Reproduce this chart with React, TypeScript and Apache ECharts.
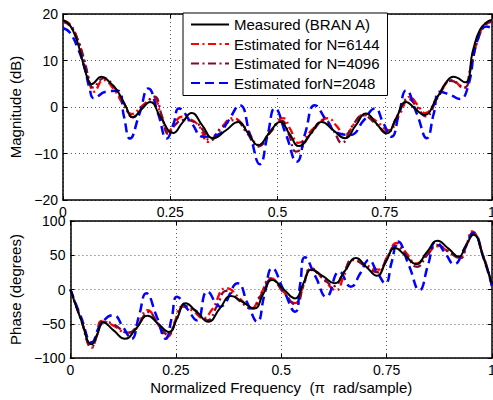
import React, { useEffect, useRef } from "react";
import * as echarts from "echarts";

const seriesNames = [
  "Measured (BRAN A)",
  "Estimated for N=6144",
  "Estimated for N=4096",
  "Estimated forN=2048",
];
const seriesColors = ["#000000", "#ff0000", "#7f0a33", "#0000ff"];
const freqTicks = [0, 0.25, 0.5, 0.75, 1];
const magTicks = [-20, -10, 0, 10, 20];
const phaseTicks = [-100, -50, 0, 50, 100];

const magMeasured: [number, number][] = [
  [0, 18.7], [0.016, 17.6], [0.032, 14.4], [0.047, 9.4], [0.058, 6.0], [0.066, 4.9],
  [0.09, 6.5], [0.108, 5.4], [0.125, 3.7], [0.145, 0.4], [0.163, -2.2], [0.183, -0.5],
  [0.203, 1.1], [0.228, -2.3], [0.257, -5.6], [0.278, -3.4], [0.3, -1.3], [0.325, -4.0],
  [0.35, -6.7], [0.38, -5.0], [0.408, -3.2], [0.432, -5.7], [0.455, -8.2], [0.48, -5.7],
  [0.506, -3.2], [0.528, -5.8], [0.55, -8.4], [0.577, -5.8], [0.603, -3.2], [0.63, -5.0],
  [0.657, -6.7], [0.682, -4.0], [0.706, -1.4], [0.73, -3.5], [0.754, -5.7], [0.777, -2.3],
  [0.8, 1.1], [0.82, -0.3], [0.842, -1.7], [0.871, 1.9], [0.894, 5.4], [0.91, 6.5],
  [0.937, 5.3], [0.956, 12.3], [0.972, 16.6], [0.99, 18.4], [1, 18.7],
];
const magN6144: [number, number][] = [
  [0, 18.5], [0.016, 17.8], [0.032, 15.0], [0.05, 9.5], [0.062, 5.2], [0.072, 3.3],
  [0.094, 5.8], [0.12, 3.6], [0.14, 0.6], [0.16, -1.5], [0.185, 0.3], [0.21, 1.9],
  [0.228, -1.5], [0.245, -5.3], [0.262, -3.2], [0.277, -2.1], [0.3, -2.8], [0.318, -4.2],
  [0.338, -7.5], [0.368, -4.5], [0.397, -2.4], [0.425, -4.5], [0.458, -8.2], [0.485, -5.0],
  [0.513, -2.4], [0.53, -4.8], [0.548, -7.7], [0.585, -4.5], [0.618, -2.4], [0.637, -4.0],
  [0.657, -6.0], [0.68, -3.5], [0.7, -1.7], [0.73, -3.0], [0.758, -5.0], [0.785, -1.5],
  [0.809, 2.2], [0.826, 0.5], [0.844, -1.3], [0.875, 2.5], [0.907, 5.8], [0.933, 4.0],
  [0.95, 8.5], [0.965, 14.0], [0.985, 18.0], [1, 18.5],
];
const magN4096: [number, number][] = [
  [0, 18.3], [0.016, 17.5], [0.032, 15.0], [0.05, 10.0], [0.06, 6.2], [0.069, 4.2],
  [0.095, 6.2], [0.12, 4.2], [0.14, 1.2], [0.163, -2.2], [0.188, 0.2], [0.213, 2.2],
  [0.23, -1.8], [0.246, -5.8], [0.262, -3.8], [0.28, -2.8], [0.31, -3.4], [0.325, -4.8],
  [0.343, -7.2], [0.37, -4.5], [0.4, -2.8], [0.428, -5.5], [0.455, -8.5], [0.483, -5.5],
  [0.51, -3.0], [0.527, -6.0], [0.543, -9.6], [0.58, -5.5], [0.61, -2.8], [0.63, -5.0],
  [0.65, -7.7], [0.675, -4.0], [0.7, -1.8], [0.728, -3.5], [0.755, -5.5], [0.78, -1.8],
  [0.805, 1.8], [0.825, 0], [0.845, -2.0], [0.875, 2.2], [0.905, 5.6], [0.935, 4.2],
  [0.952, 9.0], [0.967, 14.5], [0.985, 17.7], [1, 18.3],
];
const magN2048: [number, number][] = [
  [0, 17.0], [0.016, 16.0], [0.035, 12.5], [0.05, 8.5], [0.062, 4.0], [0.072, 1.9],
  [0.1, 3.3], [0.128, 3.5], [0.142, -2.0], [0.156, -6.8], [0.178, -1.5], [0.199, 4.0],
  [0.222, -1.5], [0.242, -6.8], [0.258, -3.5], [0.27, -0.3], [0.3, -3.5], [0.327, -6.4],
  [0.36, -6.0], [0.385, -3.0], [0.412, 0.4], [0.436, -6.0], [0.459, -12.3], [0.477, -6.0],
  [0.494, -0.3], [0.52, -6.0], [0.545, -11.8], [0.565, -5.5], [0.587, 0.4], [0.615, -3.0],
  [0.64, -5.6], [0.67, -6.0], [0.7, -3.0], [0.727, -0.3], [0.747, -3.5], [0.766, -6.4],
  [0.783, -1.5], [0.8, 3.6], [0.825, -1.5], [0.848, -6.7], [0.864, -1.5], [0.879, 3.3],
  [0.905, 2.5], [0.925, 1.7], [0.944, 4.4], [0.964, 13.7], [0.987, 17.3], [1, 17.0],
];

const phaseMeasured: [number, number][] = [
  [0, 0], [0.024, -42], [0.051, -80], [0.064, -65], [0.078, -48], [0.103, -60],
  [0.129, -72], [0.156, -57], [0.183, -38.5], [0.208, -50], [0.234, -62], [0.253, -42],
  [0.273, -20], [0.3, -33], [0.327, -47], [0.354, -28], [0.381, -9.6], [0.408, -18],
  [0.436, -27.7], [0.457, -7], [0.479, 14], [0.506, 0], [0.533, -13], [0.552, 8],
  [0.572, 28.7], [0.6, 19], [0.626, 9], [0.652, 28], [0.677, 46], [0.702, 33],
  [0.727, 20], [0.748, 40], [0.77, 60.5], [0.795, 49], [0.82, 37], [0.845, 54],
  [0.871, 71], [0.896, 60], [0.921, 48], [0.938, 64], [0.956, 80], [0.98, 46], [1, 8],
];
const phaseN6144: [number, number][] = [
  [0, 0], [0.025, -44], [0.051, -85], [0.062, -68], [0.074, -46], [0.1, -52],
  [0.135, -63], [0.155, -58], [0.183, -30], [0.207, -50], [0.23, -69], [0.247, -48],
  [0.265, -25], [0.29, -31], [0.315, -42], [0.335, -30], [0.37, 2], [0.405, -15],
  [0.428, -28], [0.452, -6], [0.475, 16.5], [0.505, -3], [0.533, -20], [0.552, 5],
  [0.572, 31], [0.6, 15], [0.63, -1], [0.65, 22], [0.669, 43], [0.7, 36],
  [0.73, 29], [0.752, 48], [0.774, 68], [0.797, 53], [0.82, 38], [0.845, 50],
  [0.87, 63], [0.898, 55], [0.925, 46], [0.94, 66], [0.952, 85], [0.98, 48], [1, 5],
];
const phaseN4096: [number, number][] = [
  [0, 0], [0.025, -43], [0.051, -83], [0.063, -67], [0.076, -47], [0.1, -50],
  [0.138, -63], [0.16, -52], [0.185, -33], [0.208, -50], [0.232, -66], [0.25, -46],
  [0.27, -24], [0.3, -32], [0.325, -45], [0.347, -25], [0.37, -2], [0.4, -16],
  [0.43, -28], [0.453, -7], [0.477, 15], [0.505, -4], [0.535, -22], [0.552, 4],
  [0.57, 30], [0.598, 17], [0.625, 5], [0.648, 25], [0.67, 44], [0.7, 34],
  [0.73, 25], [0.75, 45], [0.772, 64], [0.797, 49], [0.822, 33], [0.846, 50],
  [0.87, 65], [0.897, 55], [0.923, 46], [0.94, 65], [0.954, 83], [0.98, 47], [1, 5],
];
const phaseN2048: [number, number][] = [
  [0, 0], [0.025, -40], [0.051, -77], [0.071, -52], [0.102, -37.5], [0.125, -55],
  [0.145, -72], [0.162, -40], [0.18, -5.6], [0.205, -40], [0.226, -72], [0.24, -42],
  [0.253, -10.5], [0.277, -28], [0.3, -45], [0.325, -3], [0.355, -25], [0.397, 9],
  [0.42, -20], [0.443, -47], [0.46, -8], [0.479, 31], [0.505, 0], [0.533, -32.6],
  [0.545, 8], [0.556, 47], [0.582, 18], [0.607, -10.5], [0.638, 26], [0.665, 4],
  [0.688, 24], [0.708, 43], [0.727, 26], [0.747, 9], [0.762, 40], [0.777, 70],
  [0.803, 35], [0.828, -1], [0.848, 35], [0.867, 70], [0.89, 52], [0.91, 37],
  [0.935, 60], [0.956, 82], [0.98, 46], [1, 5],
];

const magData = [magMeasured, magN6144, magN4096, magN2048];
const phaseData = [phaseMeasured, phaseN6144, phaseN4096, phaseN2048];

const FONT = "'Liberation Sans', Arial, Helvetica, sans-serif";
const dashStyles: any[] = ["solid", [8, 3.5, 2, 3.5], [8, 3.5, 2, 3.5], [9, 5]];
const lineWidths = [2, 2.3, 2.3, 2.5];
const zOrder = [6, 3, 4, 5];

const fmtNum = (v: number) => (v < 0 ? "\u2212" + Math.abs(v) : String(v));

function makeX(gridIndex: number, position: "bottom" | "top", showLabel: boolean, name?: string) {
  return {
    type: "value",
    gridIndex,
    position,
    min: freqTicks[0],
    max: freqTicks[freqTicks.length - 1],
    interval: 0.25,
    name: name || "",
    nameLocation: "middle",
    nameGap: 22,
    nameTextStyle: { fontSize: 15, color: "#000", fontFamily: FONT },
    axisLine: { show: true, onZero: false, lineStyle: { color: "#000", width: 1.5 } },
    axisTick: { show: true, inside: true, length: 4, lineStyle: { color: "#000" } },
    axisLabel: {
      show: showLabel,
      fontSize: 14,
      color: "#000",
      fontFamily: FONT,
      margin: 5,
      formatter: (v: number) => fmtNum(v),
    },
    splitLine: {
      show: position === "bottom",
      lineStyle: { color: "#555", type: [1, 3], width: 1 },
    },
  };
}

function makeY(gridIndex: number, position: "left" | "right", ticks: number[], showLabel: boolean, name?: string) {
  return {
    type: "value",
    gridIndex,
    position,
    min: ticks[0],
    max: ticks[ticks.length - 1],
    interval: ticks[1] - ticks[0],
    name: name || "",
    nameLocation: "middle",
    nameGap: 38,
    nameTextStyle: { fontSize: 15, color: "#000", fontFamily: FONT },
    axisLine: { show: true, onZero: false, lineStyle: { color: "#000", width: 1.5 } },
    axisTick: { show: true, inside: true, length: 4, lineStyle: { color: "#000" } },
    axisLabel: {
      show: showLabel,
      fontSize: 14,
      color: "#000",
      fontFamily: FONT,
      margin: 5,
      formatter: (v: number) => fmtNum(v),
    },
    splitLine: {
      show: position === "left",
      lineStyle: { color: "#555", type: [1, 3], width: 1 },
    },
  };
}

export default function App() {
  const ref = useRef<HTMLDivElement>(null);

  useEffect(() => {
    if (!ref.current) return;
    const chart = echarts.init(ref.current, undefined, { renderer: "svg" });

    const series: any[] = [];
    [magData, phaseData].forEach((group, gi) => {
      group.forEach((data, i) => {
        series.push({
          type: "line",
          name: seriesNames[i],
          xAxisIndex: gi * 2,
          yAxisIndex: gi * 2,
          data,
          symbol: "none",
          showSymbol: false,
          smooth: 0.5,
          z: zOrder[i],
          itemStyle: { color: seriesColors[i] },
          lineStyle: { color: seriesColors[i], width: lineWidths[i], type: dashStyles[i] },
        });
      });
    });

    chart.setOption({
      animation: false,
      backgroundColor: "#fff",
      textStyle: { fontFamily: FONT },
      grid: [
        { left: 63, top: 14, width: 429, height: 186 },
        { left: 63, top: 221, width: 429, height: 137 },
      ],
      xAxis: [
        makeX(0, "bottom", true),
        makeX(0, "top", false),
        makeX(1, "bottom", true, "Normalized Frequency  (\u03c0  rad/sample)"),
        makeX(1, "top", false),
      ],
      yAxis: [
        makeY(0, "left", magTicks, true, "Magnitude (dB)"),
        makeY(0, "right", magTicks, false),
        makeY(1, "left", phaseTicks, true, "Phase (degrees)"),
        makeY(1, "right", phaseTicks, false),
      ],
      legend: {
        data: seriesNames,
        orient: "vertical",
        left: 183,
        top: 13,
        itemWidth: 38,
        itemHeight: 15,
        itemGap: 4.5,
        padding: [4, 8, 5, 7],
        borderColor: "#000",
        borderWidth: 1,
        borderRadius: 0,
        backgroundColor: "#fff",
        selectedMode: false,
        itemStyle: { opacity: 0, borderWidth: 0 },
        textStyle: { fontSize: 15, color: "#000", fontFamily: FONT },
        z: 10,
      },
      series,
    });

    return () => chart.dispose();
  }, []);

  return (
    <div
      style={{
        position: "fixed",
        left: 0,
        top: 0,
        width: 493,
        height: 400,
        overflow: "hidden",
        background: "#fff",
      }}
    >
      <div ref={ref} style={{ width: 520, height: 400 }} />
    </div>
  );
}
